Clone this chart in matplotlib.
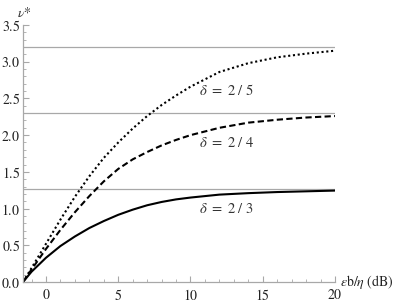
import numpy as np
from matplotlib import pyplot as plt, ticker

plt.rcParams.update({'font.family': 'serif',
                     'font.serif': ['Liberation Serif', 'DejaVu Serif'],
                     'mathtext.fontset': 'stix', 'font.size': 9})

# Eb/N0 (dB) и значения nu* для трёх delta
x = [-1.59, -1, 0, 1, 2, 3, 4, 5, 6, 7, 8, 9, 10, 12, 14, 16, 18, 20]
nu_23 = [0, 0.14, 0.33, 0.49, 0.62, 0.735, 0.83, 0.915, 0.985, 1.045, 1.09,
         1.125, 1.15, 1.19, 1.21, 1.225, 1.235, 1.245]
nu_24 = [0, 0.17, 0.45, 0.71, 0.95, 1.17, 1.37, 1.54, 1.67, 1.77, 1.86, 1.935,
         2.00, 2.10, 2.17, 2.21, 2.24, 2.26]
nu_25 = [0, 0.19, 0.52, 0.85, 1.16, 1.44, 1.69, 1.90, 2.09, 2.26, 2.41, 2.54,
         2.66, 2.86, 2.98, 3.06, 3.11, 3.15]
limits = [1.26, 2.297, 3.206]
labels = ['2\\ /\\ 3', '2\\ /\\ 4', '2\\ /\\ 5']
label_pos = [(12.5, 0.99), (12.5, 1.89), (12.5, 2.61)]

grey = '#a8a8a8'
fig = plt.figure(figsize=(4.07, 3.05), dpi=100)
ax = fig.add_axes((23 / 407, 23 / 305, 312 / 407, 257 / 305))

for lim in limits:
    ax.plot([x[0], 20], [lim, lim], c=grey, lw=0.9)

ax.plot(x, nu_23, c='k', lw=1.5, ls='-')
ax.plot(x, nu_24, c='k', lw=1.5, ls=(0, (3, 1.6)))
ax.plot(x, nu_25, c='k', lw=1.5, ls=(0, (1, 1.3)))

for (lx, ly), lab in zip(label_pos, labels):
    ax.text(lx, ly, r'$\delta\ =\ %s$' % lab, ha='center', va='center',
            fontsize=10.5, color='#333333')

ax.set_xlim(x[0], 20)
ax.set_ylim(0, 3.5)
ax.xaxis.set_major_locator(ticker.FixedLocator([0, 5, 10, 15, 20]))
ax.xaxis.set_minor_locator(ticker.MultipleLocator(1))
ax.xaxis.set_major_formatter(ticker.FormatStrFormatter(r'$\mathrm{%d}$'))
ax.yaxis.set_major_locator(ticker.MultipleLocator(0.5))
ax.yaxis.set_minor_locator(ticker.MultipleLocator(0.1))
ax.yaxis.set_major_formatter(ticker.FormatStrFormatter(r'$\mathrm{%.1f}$'))
ax.tick_params(which='both', direction='in', color=grey, labelcolor='#222222',
               labelsize=10)
ax.tick_params(which='major', length=4, width=0.8)
ax.tick_params(which='minor', length=2, width=0.6)
ax.tick_params(axis='y', pad=2)
ax.tick_params(axis='x', pad=4)
for s in ('top', 'right'):
    ax.spines[s].set_visible(False)
for s in ('left', 'bottom'):
    ax.spines[s].set_color(grey)
    ax.spines[s].set_linewidth(0.9)

fig.text(17 / 407, 1 - 13 / 305, r'$\nu{*}$', ha='left', va='center',
         fontsize=10, color='#333333')
fig.text(340 / 407, 1 - 282 / 305, r'$\epsilon\mathrm{b}/\eta\ \mathrm{(dB)}$',
         ha='left', va='center', fontsize=10, color='#222222')

plt.savefig('out.png', dpi=100)
